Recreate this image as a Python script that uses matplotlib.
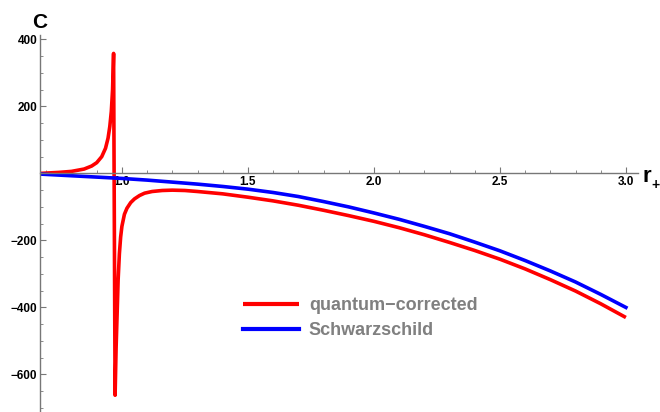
import matplotlib
matplotlib.use("Agg")
import matplotlib.pyplot as plt
from matplotlib.ticker import MultipleLocator, FixedLocator

plt.rcParams['font.family'] = ['Liberation Sans', 'DejaVu Sans']
plt.rcParams['font.weight'] = 'bold'

# heat capacity vs horizon radius
r_qc = [0.675, 0.75, 0.8, 0.85, 0.88, 0.9, 0.92, 0.935, 0.945, 0.952, 0.958, 0.963,
        0.967, 0.973, 0.977, 0.981, 0.985, 0.99, 0.995, 1.0, 1.01, 1.02, 1.035, 1.05,
        1.07, 1.09, 1.12, 1.16, 1.2, 1.25, 1.3, 1.4, 1.5, 1.6, 1.7, 1.8, 1.9, 2.0,
        2.1, 2.2, 2.3, 2.4, 2.5, 2.6, 2.7, 2.8, 2.9, 3.0]
C_qc = [0, 3, 6, 13, 22, 32, 50, 75, 105, 140, 185, 250,
        358, -662, -520, -420, -318, -240, -190, -158, -122, -104, -87, -76,
        -66, -59, -54, -51, -50, -51, -54, -61, -71, -82, -95, -110, -126, -143,
        -162, -183, -206, -230, -256, -285, -317, -351, -389, -430]

r_sch = [0.675, 0.8, 0.9, 1.0, 1.1, 1.2, 1.3, 1.4, 1.5, 1.6, 1.7, 1.8, 1.9, 2.0,
         2.1, 2.2, 2.3, 2.4, 2.5, 2.6, 2.7, 2.8, 2.9, 3.0]
C_sch = [-2, -7, -11, -15, -20, -26, -32, -39, -47, -57, -69, -84, -100, -118,
         -137, -158, -180, -205, -231, -260, -291, -324, -361, -400]

x_major = [1.0, 1.5, 2.0, 2.5, 3.0]
y_major = [-600, -400, -200, 200, 400]

W, H = 660, 412
fig = plt.figure(figsize=(W / 100, H / 100), dpi=100)
ax = fig.add_axes([40 / W, 0, 598 / W, (H - 35) / H])

ax.plot(r_qc, C_qc, color='#ff0000', lw=2.6, solid_capstyle='butt',
        label='quantum\u2212corrected')
ax.plot(r_sch, C_sch, color='#0000ff', lw=2.6, label='Schwarzschild')

ax.set_xlim(0.675, 3.048)
ax.set_ylim(-712, 413)

for s in ['top', 'right']:
    ax.spines[s].set_visible(False)
ax.spines['bottom'].set_position(('data', 0))
for s in ['left', 'bottom']:
    ax.spines[s].set_color('#777777')
    ax.spines[s].set_linewidth(1.0)

ax.xaxis.set_major_locator(FixedLocator(x_major))
ax.xaxis.set_minor_locator(MultipleLocator(0.1))
ax.yaxis.set_major_locator(FixedLocator(y_major))
ax.yaxis.set_minor_locator(MultipleLocator(50))
ax.xaxis.set_major_formatter(plt.FuncFormatter(lambda v, p: f'{v:.1f}'))
ax.yaxis.set_major_formatter(plt.FuncFormatter(lambda v, p: f'{v:.0f}'.replace('-', '\u2212')))

ax.tick_params(which='major', direction='in', length=4, width=0.8, color='#777777',
               labelsize=8.5, pad=2)
ax.tick_params(which='minor', direction='in', length=2, width=0.6, color='#777777')

fig.text(40 / W, 1 - 28 / H, 'C', fontsize=15, fontweight='bold', ha='center', va='baseline')
fig.text(642 / W, 1 - 182 / H, 'r', fontsize=16, fontweight='bold', ha='left', va='baseline')
fig.text(651 / W, 1 - 189 / H, '+', fontsize=10, fontweight='bold', ha='left', va='baseline')

leg = ax.legend(loc='center left', bbox_to_anchor=(243 / W, 1 - 318 / H),
                bbox_transform=fig.transFigure, frameon=False,
                prop={'size': 13, 'weight': 'bold'},
                handlelength=3.1, handletextpad=0.55, labelspacing=0.45,
                borderpad=0, borderaxespad=0)
for t in leg.get_texts():
    t.set_color('#808080')
for h in leg.get_lines():
    h.set_linewidth(3.0)

fig.savefig('out.png', dpi=100)
